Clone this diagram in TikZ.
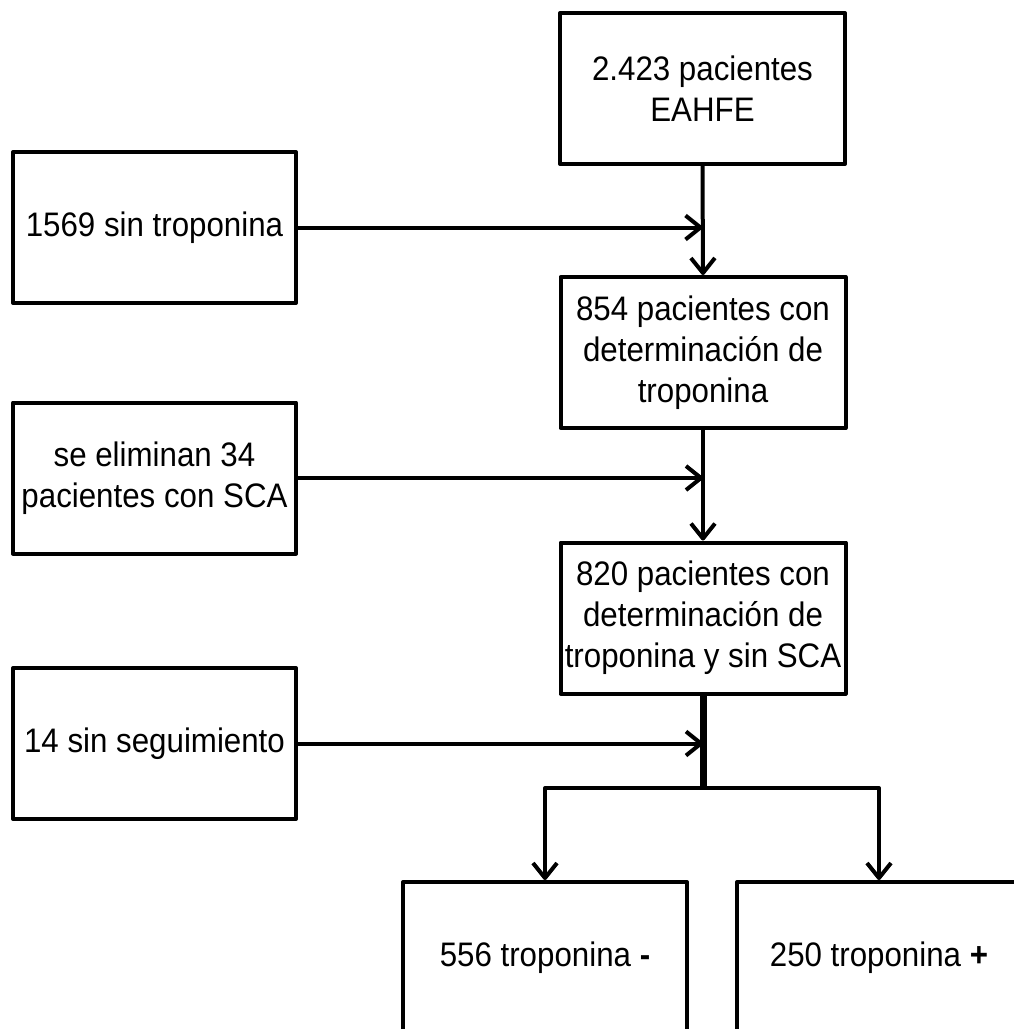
\documentclass[tikz,border=0pt]{standalone}
\usepackage{fontspec}
\setmainfont{Liberation Sans}[FakeStretch=0.92]
\usetikzlibrary{arrows.meta,positioning,calc}

\begin{document}
\begin{tikzpicture}[
  x=1pt, y=-1pt,
  stage/.style={rectangle, draw, line width=4pt, line join=round,
                minimum width=285pt, minimum height=151pt, inner sep=0pt,
                align=center, font=\fontsize{34}{41}\selectfont},
  excl/.style={stage, minimum width=283pt},
  edge/.style={draw, line width=4pt,
               -{Straight Barb[length=15pt,width=24pt,line join=round]}},
]
  \useasboundingbox (0,0) rectangle (1013,1029);

  % ===== Main column =====
  \node[stage] (total) at (702.5, 88.5) {2.423 pacientes\\EAHFE};
  \node[stage] (tropo) at (703, 352.5)
       {854 pacientes con\\determinación de\\troponina};
  \node[stage] (nosca) at (703, 618)
       {820 pacientes con\\determinación de\\troponina y sin SCA};

  % ===== Excluded (left column) =====
  \node[excl] (sintrop) at (154.5, 227.5) {1569 sin troponina};
  \node[excl] (elimsca) at (154.5, 478) {se eliminan 34\\pacientes con SCA};
  \node[excl] (sinseg)  at (154.5, 743.5) {14 sin seguimiento};

  % ===== Outcome boxes (bottom) =====
  \node[stage, minimum width=284pt, minimum height=152pt] (neg) at (545, 958)
       {556 troponina \textbf{-}};
  \node[stage, minimum width=284pt, minimum height=152pt] (pos) at (879, 958)
       {250 troponina \textbf{+}};

  % ===== Junction points =====
  \coordinate (j1) at (total.south |- sintrop.east);
  \coordinate (j2) at (tropo.south |- elimsca.east);
  \coordinate (j3) at (nosca.south |- sinseg.east);
  \coordinate (split) at (703, 788);

  % ===== Edges =====
  \draw[edge] (total.south) -- (tropo.north);
  \draw[edge] (sintrop.east) -- (j1);
  \draw[edge] (tropo.south) -- (nosca.north);
  \draw[edge] (elimsca.east) -- (j2);

  % stem and split to outcomes
  \draw[line width=7pt] (nosca.south) -- (split);
  \draw[edge] (sinseg.east) -- (j3);
  \draw[edge, line join=round]
       (split) -- (neg.north |- split) -- (neg.north);
  \draw[edge, line join=round]
       (split) -- (pos.north |- split) -- (pos.north);

\end{tikzpicture}
\end{document}
